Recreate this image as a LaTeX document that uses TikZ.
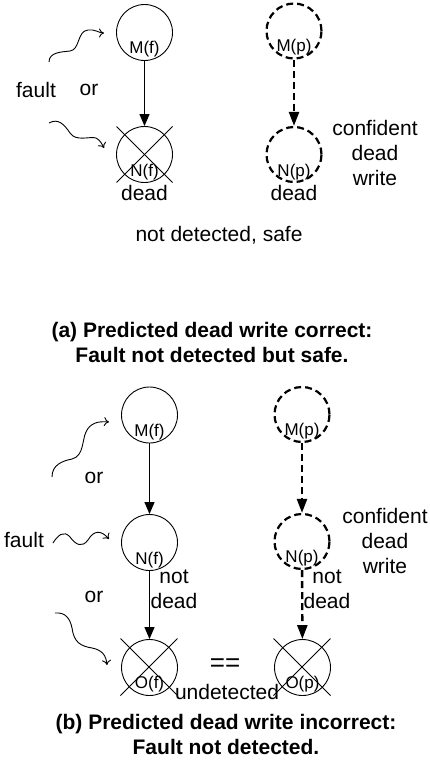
\documentclass[tikz,border=0pt]{standalone}
\usepackage{fontspec}
\setmainfont{Liberation Sans}
\usetikzlibrary{arrows.meta}
\tikzset{
  circ/.style={circle,draw,line width=0.9pt,minimum size=56pt,inner sep=0pt},
  dcirc/.style={circle,draw,line width=2.2pt,dash pattern=on 7pt off 4pt,minimum size=55pt,inner sep=0pt},
  lbl/.style={font=\fontsize{17}{20}\selectfont,inner sep=0pt},
  txt/.style={font=\fontsize{21}{25}\selectfont,inner sep=0pt,align=center},
  ttl/.style={font=\fontsize{21}{25}\selectfont\bfseries,inner sep=0pt,align=center},
  solidarrow/.style={line width=1.2pt,-{Triangle[length=12pt,width=10pt]}},
  dasharrow/.style={line width=2.4pt,dash pattern=on 7pt off 4pt,-{Triangle[length=14pt,width=10pt]}},
  squig/.style={line width=0.9pt,-{To[length=5pt,width=9pt]}},
  crossline/.style={line width=0.9pt}
}
\begin{document}
\begin{tikzpicture}[x=1pt,y=-1pt]
\useasboundingbox (0,0) rectangle (430,760);
% ---------- (a) ----------
\node[circ] (amf) at (144.5,32.5) {};
\node[lbl] (amfl) at (144.5,49) {M(f)};
\node[circ] (anf) at (144.5,154.5) {};
\node[lbl] (anfl) at (144.5,172) {N(f)};
\draw[crossline] ([shift={(-28,-28)}]anf.center) -- ([shift={(28,28)}]anf.center);
\draw[crossline] ([shift={(28,-28)}]anf.center) -- ([shift={(-28,28)}]anf.center);
\node[txt] (anfd) at (144.5,193) {dead};
\draw[solidarrow] (amf) -- (anf);

\node[dcirc] (amp) at (294,31) {};
\node[lbl] (ampl) at (294,47) {M(p)};
\node[dcirc] (anp) at (294,154.5) {};
\node[lbl] (anpl) at (294,172) {N(p)};
\node[txt] (anpd) at (294,193) {dead};
\draw[dasharrow] (amp) -- (anp);
\node[txt] (acdw) at (375,153) {confident\\dead\\write};

\node[txt] (afault) at (36,90) {fault};
\node[txt] (aor) at (89,90) {or};
\coordinate (as1) at (49,62);
\coordinate (ae1) at (104,33);
\draw[squig] (as1) .. controls (49,52) and (62,52) .. (70,51)
  .. controls (80,50) and (77,31) .. (88,30) .. controls (95,29) and (99,33) .. (ae1);
\coordinate (as2) at (49,123);
\coordinate (ae2) at (104,148);
\draw[squig] (as2) .. controls (58,118) and (64,124) .. (70,133)
  .. controls (76,142) and (90,136) .. (96,138) .. controls (100,140) and (102,144) .. (ae2);

\node[txt] (ands) at (219,235) {not detected, safe};
\node[ttl] (atitle) at (212,342.5) {(a) Predicted dead write correct:\\Fault not detected but safe.};

% ---------- (b) ----------
\node[circ] (bmf) at (149.5,415) {};
\node[lbl] (bmfl) at (149.5,432) {M(f)};
\node[circ] (bnf) at (149.5,542.5) {};
\node[lbl] (bnfl) at (149.5,560) {N(f)};
\node[circ] (bof) at (149.5,667.5) {};
\node[lbl] (bofl) at (149.5,684) {O(f)};
\draw[crossline] ([shift={(-29,-29)}]bof.center) -- ([shift={(28,28)}]bof.center);
\draw[crossline] ([shift={(28,-29)}]bof.center) -- ([shift={(-29,28)}]bof.center);
\draw[solidarrow] (bmf) -- (bnf);
\draw[solidarrow] (bnf) -- (bof);
\node[txt] (bnfnd) at (174,589.5) {not\\dead};

\node[dcirc] (bmp) at (302,414.5) {};
\node[lbl] (bmpl) at (302,431) {M(p)};
\node[dcirc] (bnp) at (302,541.5) {};
\node[lbl] (bnpl) at (302,558) {N(p)};
\node[circ] (bop) at (302.5,667.5) {};
\node[lbl] (bopl) at (302.5,684) {O(p)};
\draw[crossline] ([shift={(-29,-29)}]bop.center) -- ([shift={(28,28)}]bop.center);
\draw[crossline] ([shift={(28,-29)}]bop.center) -- ([shift={(-29,28)}]bop.center);
\draw[dasharrow] (bmp) -- (bnp);
\draw[dasharrow] (bnp) -- (bop);
\node[txt] (bnpnd) at (327,589.5) {not\\dead};
\node[txt] (bcdw) at (385,541) {confident\\dead\\write};

\node[txt,font=\fontsize{26}{30}\selectfont] (beq) at (225,665) {==};
\node[txt] (bund) at (227,692) {undetected};

\node[txt] (bor1) at (94,478) {or};
\node[txt] (bfault) at (24,540) {fault};
\node[txt] (bor2) at (94,597) {or};
\coordinate (bs1) at (52,477);
\coordinate (be1) at (109,422);
\draw[squig] (bs1) .. controls (52,465) and (62,461) .. (72,459)
  .. controls (84,456) and (82,440) .. (86,432) .. controls (90,423) and (98,421) .. (be1);
\coordinate (bs2) at (53,543);
\coordinate (be2) at (109,539);
\draw[squig] (bs2) .. controls (58,535) and (64,530) .. (70,537)
  .. controls (76,545) and (82,548) .. (88,540) .. controls (94,530) and (101,530) .. (be2);
\coordinate (bs3) at (55,613);
\coordinate (be3) at (107,665);
\draw[squig] (bs3) .. controls (65,612) and (70,618) .. (72,628)
  .. controls (74,642) and (80,646) .. (92,648) .. controls (102,650) and (106,655) .. (be3);

\node[ttl] (btitle) at (226,734.5) {(b) Predicted dead write incorrect:\\Fault not detected.};
\end{tikzpicture}
\end{document}
